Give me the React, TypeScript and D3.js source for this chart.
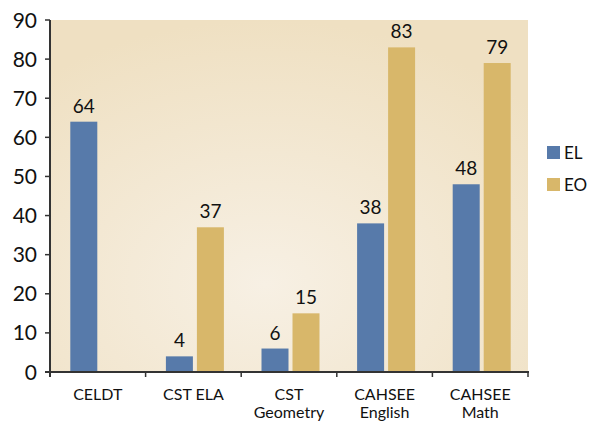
import React from 'react';
import * as d3 from 'd3';

// --- data ---
const categories = [['CELDT'], ['CST ELA'], ['CST', 'Geometry'], ['CAHSEE', 'English'], ['CAHSEE', 'Math']];
const elValues: (number | null)[] = [64, 4, 6, 38, 48];
const eoValues: (number | null)[] = [null, 37, 15, 83, 79];
const yTicks = [0, 10, 20, 30, 40, 50, 60, 70, 80, 90];
const seriesNames = ['EL', 'EO'];

const BLUE = '#577aaa';
const TAN = '#d8b76a';
const FONT = "Lato, 'Open Sans', sans-serif";

const App = () => {
  const width = 590;
  const height = 424;
  const left = 50;
  const right = 528;
  const top = 20;
  const bottom = 372;

  const x = d3.scaleBand<number>()
    .domain(categories.map((_, i) => i))
    .range([left, right])
    .padding(0);

  const y = d3.scaleLinear().domain([0, 90]).range([bottom, top]);

  const barW = 27;
  const series = [
    { name: 'EL', values: elValues, color: BLUE, offset: -barW - 0.5 },
    { name: 'EO', values: eoValues, color: TAN, offset: 3.5 },
  ];

  return (
    <div style={{ position: 'fixed', left: 0, top: 0, width, height, overflow: 'hidden', background: '#fff' }}>
      <svg width={width} height={height} style={{ display: 'block', fontFamily: FONT }}>
        <defs>
          <radialGradient id="bg" cx="0.45" cy="0.75" r="0.75">
            <stop offset="0" stopColor="#f7f0e4" />
            <stop offset="1" stopColor="#efe0c2" />
          </radialGradient>
        </defs>
        <rect x={left} y={top} width={right - left} height={bottom - top} fill="url(#bg)" />

        {/* bars */}
        {series.map(s => (
          <g key={s.name} fill={s.color}>
            {s.values.map((v, i) => {
              if (v == null) return null;
              const cx = x(i)! + x.bandwidth() / 2;
              return (
                <g key={i}>
                  <rect x={cx + s.offset} y={y(v)} width={barW} height={bottom - y(v)} />
                  <text x={cx + s.offset + barW / 2} y={y(v) - 9} textAnchor="middle" fill="#111" fontSize={19}>
                    {v}
                  </text>
                </g>
              );
            })}
          </g>
        ))}

        {/* y axis */}
        <line x1={left} x2={left} y1={top} y2={bottom + 5} stroke="#333" strokeWidth={2} />
        {yTicks.map(t => (
          <g key={t} transform={`translate(0,${y(t)})`}>
            <line x1={left - 5} x2={left} stroke="#333" strokeWidth={1.5} />
            <text x={37} dy="0.36em" textAnchor="end" fontSize={21} fill="#111">{t}</text>
          </g>
        ))}

        {/* x axis */}
        <line x1={left - 5} x2={right + 1} y1={bottom} y2={bottom} stroke="#333" strokeWidth={2} />
        {d3.range(categories.length + 1).map(i => {
          const tx = i < categories.length ? x(i)! : right;
          return <line key={i} x1={tx} x2={tx} y1={bottom} y2={bottom + 5} stroke="#333" strokeWidth={1.5} />;
        })}
        {categories.map((lines, i) => (
          <text key={i} x={x(i)! + x.bandwidth() / 2} textAnchor="middle" fill="#111" fontSize={16}>
            {lines.map((l, j) => (
              <tspan key={j} x={x(i)! + x.bandwidth() / 2} y={400 + j * 18}>{l}</tspan>
            ))}
          </text>
        ))}

        {/* legend */}
        {seriesNames.map((n, i) => (
          <g key={n} transform={`translate(547,${146 + i * 32})`}>
            <rect width={13} height={13} fill={i === 0 ? BLUE : TAN} />
            <text x={17} y={7} dy="0.36em" fontSize={17} fill="#111">{n}</text>
          </g>
        ))}
      </svg>
    </div>
  );
};

export default App;
